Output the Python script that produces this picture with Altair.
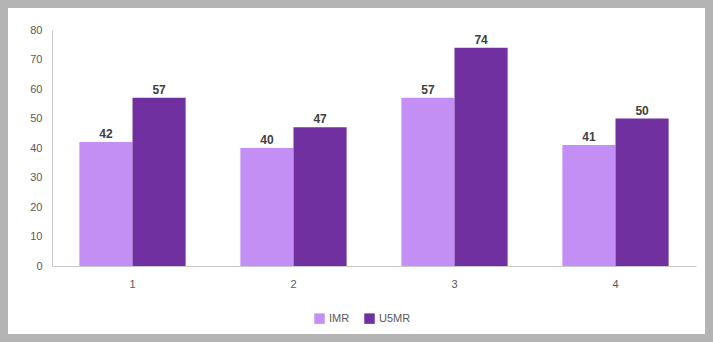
import altair as alt
import pandas as pd

categories = ["1", "2", "3", "4"]
imr = [42, 40, 57, 41]
u5mr = [57, 47, 74, 50]
series = ["IMR", "U5MR"]
colors = ["#c48ff5", "#7030a0"]
y_ticks = [0, 10, 20, 30, 40, 50, 60, 70, 80]

rows = []
for c, a, b in zip(categories, imr, u5mr):
    rows.append({"cat": c, "series": "IMR", "value": a})
    rows.append({"cat": c, "series": "U5MR", "value": b})
df = pd.DataFrame(rows)

FONT = "Liberation Sans"

base = alt.Chart(df).encode(
    x=alt.X("cat:N", sort=categories, title=None,
            scale=alt.Scale(paddingInner=0.34, paddingOuter=0.17),
            axis=alt.Axis(labelAngle=0, labelColor="#595959", labelFontSize=11,
                          labelFont=FONT, domainColor="#c8c8c8", ticks=False,
                          labelPadding=12)),
    xOffset=alt.XOffset("series:N", sort=series),
    y=alt.Y("value:Q", title=None,
            scale=alt.Scale(domain=[0, 80]),
            axis=alt.Axis(values=y_ticks, grid=False, ticks=False,
                          labelOverlap=False, labelFlush=False,
                          labelColor="#595959", labelFontSize=11, labelFont=FONT,
                          domainColor="#c8c8c8", labelPadding=10)),
)

bars = base.mark_bar().encode(
    color=alt.Color("series:N", sort=series,
                    scale=alt.Scale(domain=series, range=colors),
                    legend=alt.Legend(title=None, orient="none", legendX=262, legendY=283,
                                      direction="horizontal", symbolType="square",
                                      symbolSize=110, labelFont=FONT, labelFontSize=11,
                                      labelColor="#595959", columnPadding=14,
                                      symbolStrokeWidth=0)),
)

labels = base.mark_text(dy=-8, font=FONT, fontSize=12, fontWeight="bold",
                        color="#404040").encode(
    text="value:Q",
)

frame = alt.Chart(pd.DataFrame({"f": [0]})).mark_rect(
    fill=None, stroke="#b4b4b4", strokeWidth=16
).encode(
    x=alt.value(-52), x2=alt.value(661), y=alt.value(-30), y2=alt.value(312)
)

chart = (bars + labels + frame).properties(
    width=644, height=236,
    padding={"left": 52, "top": 30, "right": 17, "bottom": 76},
    autosize=alt.AutoSizeParams(type="none"),
    background="white",
).configure_view(stroke=None)

chart.save("out.html", embed_options={"renderer": "svg", "actions": False})
